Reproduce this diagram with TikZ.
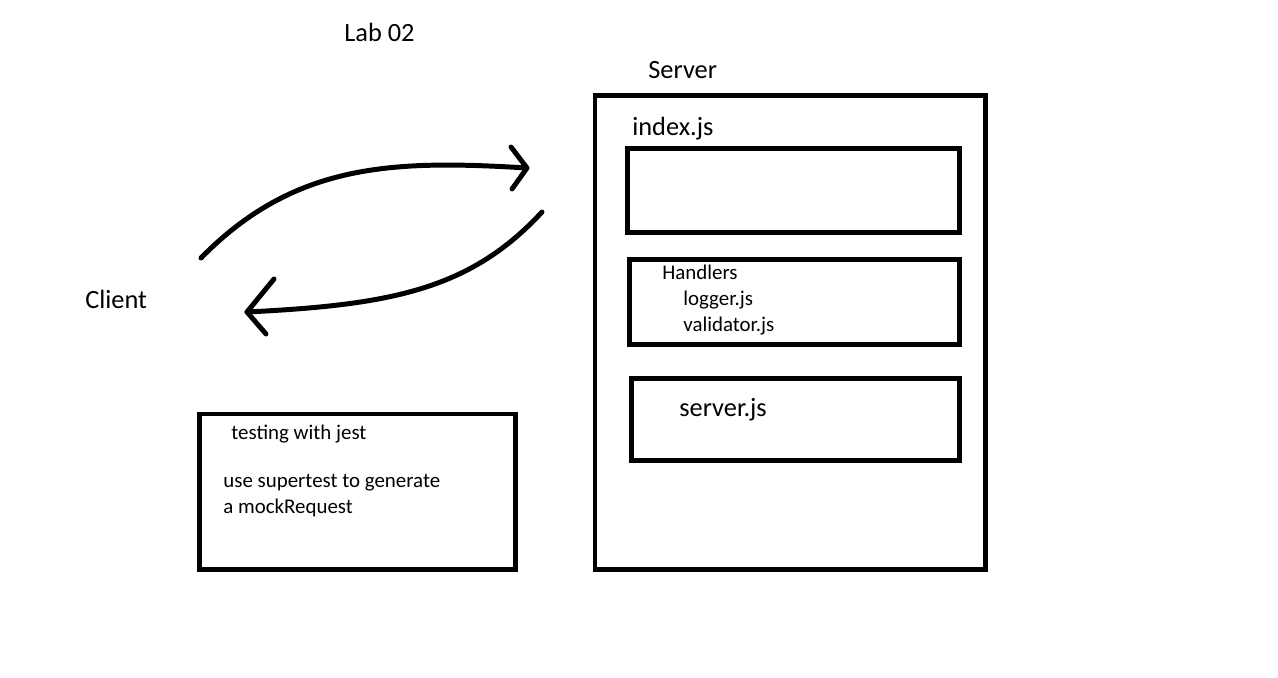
\documentclass[tikz,border=0pt]{standalone}
\usepackage{fontspec}
\setmainfont{Carlito}
\usetikzlibrary{calc}

\tikzset{
  box/.style={line width=2.83pt},
  stroke/.style={line width=2.83pt, line cap=round, line join=round},
  bigtext/.style={anchor=base west, inner sep=0pt, font=\fontsize{15}{17}\selectfont},
  smalltext/.style={anchor=base west, inner sep=0pt, font=\fontsize{11.9}{14}\selectfont}
}

\begin{document}
\begin{tikzpicture}[x=0.02cm, y=-0.02cm]
        \useasboundingbox (0,0) rectangle (1278,678);

        \coordinate (S1) at (595,95.5);
        \coordinate (S2) at (985.5,569.5);
        \coordinate (I1) at (627.5,148.5);
        \coordinate (I2) at (959.5,232.5);
        \coordinate (H1) at (629.5,259.5);
        \coordinate (H2) at (959.5,344.5);
        \coordinate (V1) at (631.5,378.5);
        \coordinate (V2) at (959.5,460.5);
        \coordinate (T1) at (199.5,414);
        \coordinate (T2) at (515.5,569.5);

        \draw[box] (S1) rectangle (S2);
        \draw[box] (I1) rectangle (I2);
        \draw[box] (H1) rectangle (H2);
        \draw[box] (V1) rectangle (V2);
        \draw[box] (T1) rectangle (T2);

        \node[bigtext] (lab) at (344,42) {Lab 02};
        \node[bigtext] (server) at (648,79) {Server};
        \node[bigtext] (index) at (632,136) {index.js};
        \node[bigtext] (client) at (85,309) {Client};
        \node[bigtext] (serverjs) at (679,417) {server.js};

        \node[smalltext] (handlers) at (662,280) {Handlers};
        \node[smalltext] (logger) at (683,306) {logger.js};
        \node[smalltext] (validator) at (683,332) {validator.js};

        \node[smalltext] (jest) at (231,440) {testing with jest};
        \node[smalltext] (supertest) at (223,488) {use supertest to generate};
        \node[smalltext] (mock) at (223,514) {a mockRequest};

        \coordinate (req start) at (201,258);
        \coordinate (req tip) at (527,168);
        \coordinate (req up) at (511,147);
        \coordinate (req down) at (512,189);
        \coordinate (res start) at (542,212);
        \coordinate (res tip) at (247,312);
        \coordinate (res up) at (274,279);
        \coordinate (res down) at (266,334);

        \draw[stroke] (req start) .. controls (295,162) and (395,160) .. (req tip);
        \draw[stroke] (req up) -- (req tip) -- (req down);
        \draw[stroke] (res start) .. controls (470,290) and (390,305) .. (res tip);
        \draw[stroke] (res up) -- (res tip) -- (res down);
    \end{tikzpicture}
\end{document}
